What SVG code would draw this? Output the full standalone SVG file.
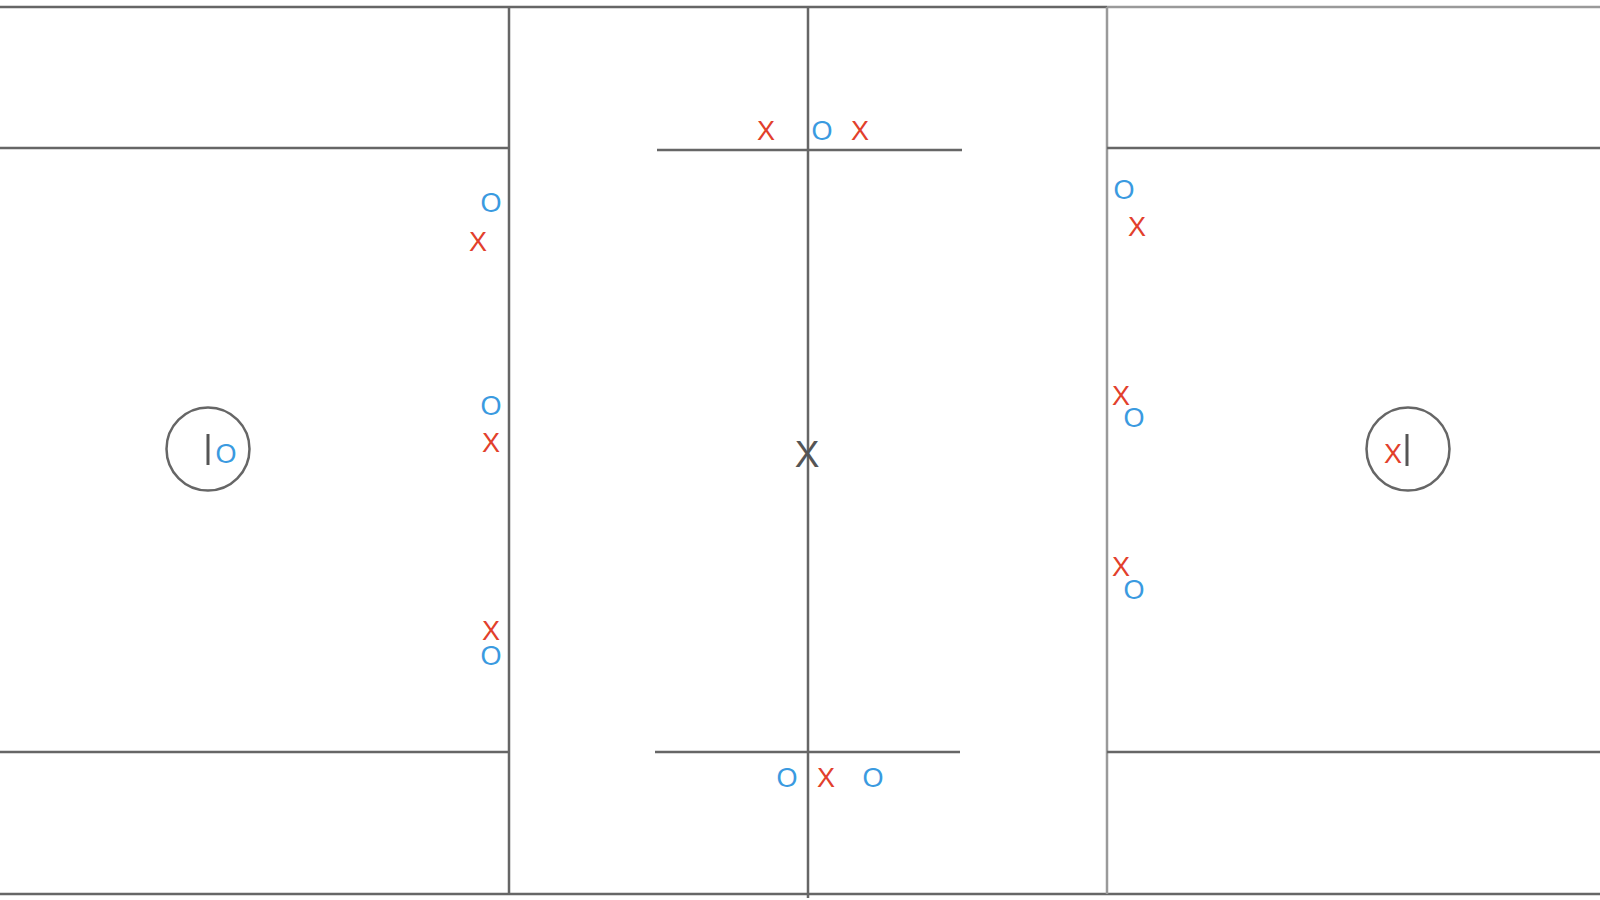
<svg xmlns="http://www.w3.org/2000/svg" width="1600" height="900" viewBox="0 0 1600 900">
<style>
.ln{stroke:#666;stroke-width:2.5;fill:none}
.lt{stroke:#9a9a9a;stroke-width:2.5;fill:none}
.x{fill:#e2402c;font-family:"Liberation Sans",Arial,sans-serif;font-size:27px;text-anchor:middle}
.o{fill:#3a9ae0;font-family:"Liberation Sans",Arial,sans-serif;font-size:27px;text-anchor:middle}
.g{fill:#555;font-family:"Liberation Sans",Arial,sans-serif;font-size:37px;text-anchor:middle}
.bar{stroke:#555;stroke-width:3}
</style>
<rect width="1600" height="900" fill="#fff"/>
<g id="field">
<line class="ln" x1="0" y1="7" x2="1107" y2="7"/>
<line class="lt" x1="1107" y1="7" x2="1600" y2="7"/>
<line class="ln" x1="0" y1="894" x2="1600" y2="894"/>
<line class="ln" x1="509" y1="7" x2="509" y2="894"/>
<line class="lt" x1="1107" y1="7" x2="1107" y2="894"/>
<line class="ln" x1="808" y1="7" x2="808" y2="898"/>
<line class="ln" x1="0" y1="148" x2="509" y2="148"/>
<line class="ln" x1="1107" y1="148" x2="1600" y2="148"/>
<line class="ln" x1="0" y1="752" x2="509" y2="752"/>
<line class="ln" x1="1107" y1="752" x2="1600" y2="752"/>
<line class="ln" x1="657" y1="150" x2="962" y2="150"/>
<line class="ln" x1="655" y1="752" x2="960" y2="752"/>
<circle class="ln" cx="208" cy="449" r="41.5"/>
<circle class="ln" cx="1408" cy="449" r="41.5"/>
<line class="bar" x1="208" y1="434" x2="208" y2="465"/>
<line class="bar" x1="1407" y1="434" x2="1407" y2="466"/>
</g>
<g id="players">
<text class="o" x="226" y="463">O</text>
<text class="x" x="1393" y="463">X</text>
<text class="g" x="807" y="467">X</text>
<text class="x" x="766" y="140">X</text>
<text class="o" x="822" y="140">O</text>
<text class="x" x="860" y="140">X</text>
<text class="o" x="787" y="787">O</text>
<text class="x" x="826" y="787">X</text>
<text class="o" x="873" y="787">O</text>
<text class="o" x="491" y="212">O</text>
<text class="x" x="478" y="251">X</text>
<text class="o" x="491" y="415">O</text>
<text class="x" x="491" y="452">X</text>
<text class="x" x="491" y="640">X</text>
<text class="o" x="491" y="665">O</text>
<text class="o" x="1124" y="199">O</text>
<text class="x" x="1137" y="236">X</text>
<text class="x" x="1121" y="405">X</text>
<text class="o" x="1134" y="427">O</text>
<text class="x" x="1121" y="576">X</text>
<text class="o" x="1134" y="599">O</text>
</g>
</svg>
